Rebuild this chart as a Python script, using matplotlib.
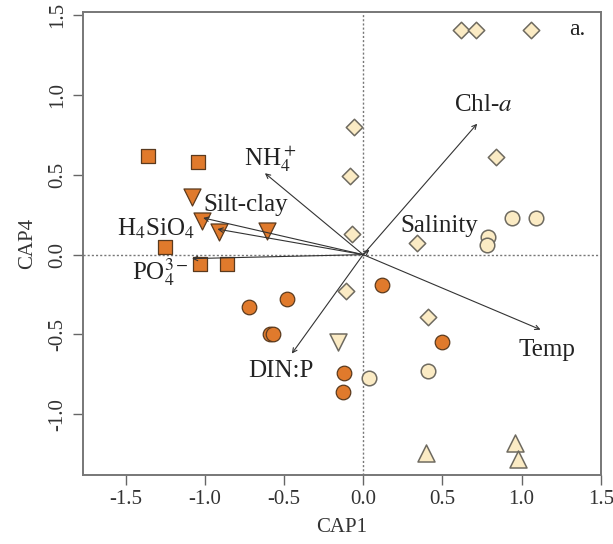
import numpy as np
import matplotlib
matplotlib.use('Agg')
import matplotlib.pyplot as plt

plt.rcParams['font.family'] = ['Liberation Serif', 'DejaVu Serif']
plt.rcParams['mathtext.fontset'] = 'stix'

# site scores on CAP1 / CAP4
sq_x = [-1.36, -1.04, -1.25, -1.03, -0.86]
sq_y = [0.62, 0.58, 0.05, -0.06, -0.06]

dtri_or_x = [-1.08, -1.02, -0.91, -0.61]
dtri_or_y = [0.36, 0.21, 0.14, 0.15]

circ_or_x = [-0.72, -0.48, -0.59, -0.57, 0.12, 0.50, -0.12, -0.13]
circ_or_y = [-0.33, -0.28, -0.50, -0.50, -0.19, -0.55, -0.74, -0.86]

dia_x = [0.62, 0.71, 1.06, -0.06, -0.08, -0.07, 0.34, 0.84, -0.11, 0.41]
dia_y = [1.41, 1.41, 1.41, 0.80, 0.49, 0.13, 0.07, 0.61, -0.23, -0.39]

circ_cr_x = [0.94, 1.09, 0.79, 0.78, 0.41, 0.04]
circ_cr_y = [0.23, 0.23, 0.11, 0.06, -0.73, -0.77]

dtri_cr_x = [-0.16]
dtri_cr_y = [-0.55]

utri_x = [0.40, 0.96, 0.98]
utri_y = [-1.24, -1.18, -1.28]

# environmental vectors
vec_names = [r'NH$_4^+$', 'Silt-clay', r'H$_4$SiO$_4$', r'PO$_4^{3-}$',
             r'Chl-$a$', 'Salinity', 'Temp', 'DIN:P']
vec_x = [-0.62, -1.01, -0.92, -1.08, 0.72, 0.04, 1.12, -0.45]
vec_y = [0.51, 0.23, 0.16, -0.025, 0.82, 0.03, -0.47, -0.62]
lab_x = [-0.59, -0.74, -1.31, -1.28, 0.76, 0.48, 1.16, -0.52]
lab_y = [0.60, 0.31, 0.16, -0.11, 0.94, 0.18, -0.60, -0.73]

orange = '#E07A2C'
cream = '#FBEBC4'
edge_or = '#5A3A1E'
edge_cr = '#6E6A60'

fig = plt.figure(figsize=(6.13, 5.44), dpi=100)
ax = fig.add_axes([0.135, 0.127, 0.845, 0.851])

ax.axhline(0, color='#777777', lw=1, ls=(0, (1.5, 1.5)), zorder=1)
ax.axvline(0, color='#777777', lw=1, ls=(0, (1.5, 1.5)), zorder=1)

ms = 110
ax.scatter(sq_x, sq_y, marker='s', s=95, c=orange, edgecolors=edge_or, linewidths=0.9, zorder=3)
ax.scatter(dtri_or_x, dtri_or_y, marker='v', s=150, c=orange, edgecolors=edge_or, linewidths=0.9, zorder=3)
ax.scatter(circ_or_x, circ_or_y, marker='o', s=ms, c=orange, edgecolors=edge_or, linewidths=0.9, zorder=3)
ax.scatter(dia_x, dia_y, marker='D', s=70, c=cream, edgecolors=edge_cr, linewidths=1.1, zorder=3)
ax.scatter(circ_cr_x, circ_cr_y, marker='o', s=ms, c=cream, edgecolors=edge_cr, linewidths=1.1, zorder=3)
ax.scatter(dtri_cr_x, dtri_cr_y, marker='v', s=150, c=cream, edgecolors=edge_cr, linewidths=1.1, zorder=3)
ax.scatter(utri_x, utri_y, marker='^', s=150, c=cream, edgecolors=edge_cr, linewidths=1.1, zorder=3)

for name, vx, vy, lx, ly in zip(vec_names, vec_x, vec_y, lab_x, lab_y):
    ax.annotate('', xy=(vx, vy), xytext=(0, 0),
                arrowprops=dict(arrowstyle='->', color='#333333', lw=0.8,
                                shrinkA=0, shrinkB=0, mutation_scale=8),
                zorder=4)
    ax.text(lx, ly, name, fontsize=18, ha='center', va='center', color='#222222', zorder=5)

ax.text(1.35, 1.41, 'a.', fontsize=17, ha='center', va='center', color='#222222')

ax.set_xlim(-1.77, 1.5)
ax.set_ylim(-1.38, 1.52)
ax.set_xticks([-1.5, -1.0, -0.5, 0.0, 0.5, 1.0, 1.5])
ax.set_yticks([-1.0, -0.5, 0.0, 0.5, 1.0, 1.5])
ax.set_xticklabels(['-1.5', '-1.0', '-0.5', '0.0', '0.5', '1.0', '1.5'])
ax.set_yticklabels(['-1.0', '-0.5', '0.0', '0.5', '1.0', '1.5'], rotation=90, va='center')
ax.tick_params(labelsize=15, length=7, width=1, color='#666666', labelcolor='#333333', pad=4)
for s in ax.spines.values():
    s.set_color('#777777')
    s.set_linewidth(1.4)
ax.set_xlabel('CAP1', fontsize=15, color='#333333', labelpad=6)
ax.set_ylabel('CAP4', fontsize=15, color='#333333', labelpad=8)

fig.savefig('out.png', dpi=100)
